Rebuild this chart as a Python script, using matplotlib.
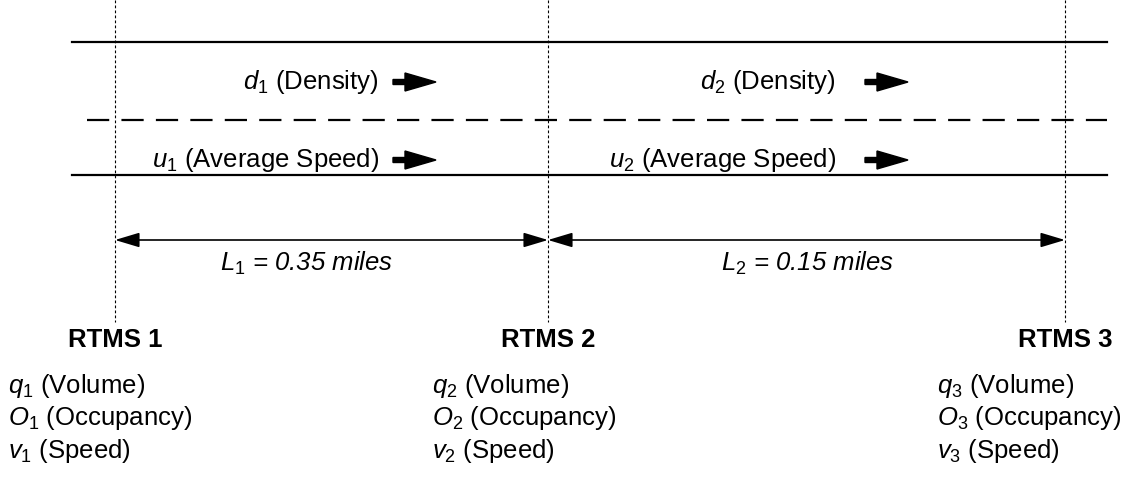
import matplotlib.pyplot as plt

plt.rcParams['font.family'] = ['Liberation Sans', 'DejaVu Sans']
plt.rcParams['mathtext.fontset'] = 'custom'
plt.rcParams['mathtext.it'] = 'Liberation Sans:italic'
plt.rcParams['mathtext.rm'] = 'Liberation Sans'

# Datos
sensores = ['RTMS 1', 'RTMS 2', 'RTMS 3']
longitudes = [0.35, 0.15]
medidas_sensor = [('q', 'Volume'), ('O', 'Occupancy'), ('v', 'Speed')]
medidas_tramo = [('d', 'Density'), ('u', 'Average Speed')]

# Layout (pixel coords)
x_sensor = [115, 548, 1065]
x_texto_sensor = [8, 432, 937]
x_texto_L = [307, 808]
x_fin_texto_tramo = [379, 836]
x_flecha_tramo = [393, 865]
y_tramo = [82, 160]
fs = 18.5

fig = plt.figure(figsize=(11.39, 4.84), dpi=100)
ax = fig.add_axes([0, 0, 1, 1])
ax.set_xlim(0, 1139)
ax.set_ylim(484, 0)
ax.axis('off')

# Carriles
ax.plot([72, 1107], [42, 42], color='black', lw=1.6)
ax.plot([72, 1107], [175, 175], color='black', lw=1.6)
ax.plot([87, 1107], [120, 120], color='black', lw=1.6, ls=(0, (10, 5.5)))

# Sensores
for i, nombre in enumerate(sensores):
    xs = x_sensor[i]
    ax.plot([xs, xs], [0, 322], color='black', lw=0.8, ls=(0, (2.5, 2)))
    ax.text(xs, 340, nombre, ha='center', va='center', fontsize=fs, fontweight='bold')
    for j, (sim, nom) in enumerate(medidas_sensor):
        ax.text(x_texto_sensor[i], 386 + 32.5 * j,
                r'$%s_{\mathit{%d}}$ (%s)' % (sim, i + 1, nom),
                ha='left', va='center', fontsize=fs)

# Tramos
for k, L in enumerate(longitudes):
    x0, x1 = x_sensor[k], x_sensor[k + 1]
    ax.annotate('', xy=(x1, 240), xytext=(x0, 240),
                arrowprops=dict(arrowstyle='<|-|>,head_length=1.5,head_width=0.45',
                                mutation_scale=10, color='black', lw=1.2,
                                shrinkA=0, shrinkB=0))
    ax.text(x_texto_L[k], 263,
            r'$L_{\mathit{%d}}$ = %.2f miles' % (k + 1, L),
            ha='center', va='center', fontsize=fs, style='italic')
    for j, (sim, nom) in enumerate(medidas_tramo):
        ax.text(x_fin_texto_tramo[k], y_tramo[j],
                r'$%s_{\mathit{%d}}$ (%s)' % (sim, k + 1, nom),
                ha='right', va='center', fontsize=fs)
        ax.arrow(x_flecha_tramo[k], y_tramo[j], 43, 0, width=5,
                 head_width=18, head_length=31, length_includes_head=True,
                 color='black')

fig.savefig('out.png', dpi=100)
